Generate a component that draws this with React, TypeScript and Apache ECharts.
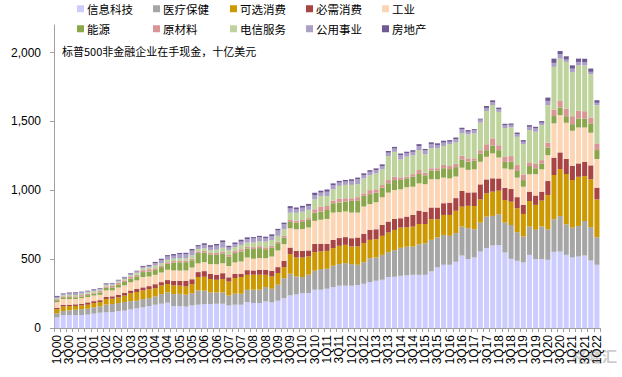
import React, { useEffect, useRef } from "react";
import * as echarts from "echarts";

const categories = [
  "1Q00","2Q00","3Q00","4Q00","1Q01","2Q01","3Q01","4Q01","1Q02","2Q02","3Q02","4Q02",
  "1Q03","2Q03","3Q03","4Q03","1Q04","2Q04","3Q04","4Q04","1Q05","2Q05","3Q05","4Q05",
  "1Q06","2Q06","3Q06","4Q06","1Q07","2Q07","3Q07","4Q07","1Q08","2Q08","3Q08","4Q08",
  "1Q09","2Q09","3Q09","4Q09","1Q10","2Q10","3Q10","4Q10","1Q11","2Q11","3Q11","4Q11",
  "1Q12","2Q12","3Q12","4Q12","1Q13","2Q13","3Q13","4Q13","1Q14","2Q14","3Q14","4Q14",
  "1Q15","2Q15","3Q15","4Q15","1Q16","2Q16","3Q16","4Q16","1Q17","2Q17","3Q17","4Q17",
  "1Q18","2Q18","3Q18","4Q18","1Q19","2Q19","3Q19","4Q19","1Q20","2Q20","3Q20","4Q20",
  "1Q21","2Q21","3Q21","4Q21","1Q22"
];

const seriesNames = ["信息科技","医疗保健","可选消费","必需消费","工业","能源","原材料","电信服务","公用事业","房地产"];
const seriesColors = ["#CCCCFF","#A6A6A6","#CC9900","#A84444","#FCD5B5","#8BA74C","#D99694","#BED49C","#ACA0C6","#705A93"];

const infoTech = [
  77,92,94,94,94,97,104,111,114,116,123,126,135,142,150,159,
  169,176,184,159,159,155,164,169,174,174,176,176,164,169,169,188,
  181,181,193,186,198,217,237,244,254,254,278,278,285,297,307,307,
  307,312,321,333,343,350,370,372,379,382,386,386,386,411,440,459,
  459,481,526,500,512,555,580,599,601,548,502,488,476,531,500,500,
  495,553,555,531,512,519,526,490,459
];
const healthCare = [
  29,31,34,39,43,43,46,46,56,58,58,63,60,56,60,58,
  60,70,75,87,89,87,89,104,97,85,82,82,72,80,80,89,
  97,97,104,99,116,145,157,130,116,133,138,150,145,155,157,164,
  157,147,157,174,169,181,181,193,203,208,205,222,229,229,217,217,
  210,208,210,225,205,210,229,215,225,217,246,208,188,205,213,237,
  222,237,258,222,217,222,251,242,200
];
const consDisc = [
  31,34,31,27,27,29,31,31,41,39,41,46,58,63,63,65,
  60,63,60,63,60,60,65,97,101,97,92,97,101,114,121,109,
  109,109,89,89,85,80,142,138,142,133,135,128,130,128,133,133,
  128,133,138,133,133,138,142,147,147,142,145,147,140,150,133,145,
  152,162,145,162,169,169,169,176,171,164,169,174,164,186,181,188,
  249,321,341,365,345,357,326,348,275
];
const consStaples = [
  10,12,10,12,12,17,14,14,14,17,19,19,19,22,22,22,
  29,24,29,34,34,41,36,36,41,36,36,43,31,31,24,34,
  31,36,36,41,43,46,48,48,48,43,60,56,51,60,56,56,
  60,65,68,72,72,80,80,80,68,77,85,97,89,85,85,85,
  89,92,114,97,99,109,101,97,89,89,92,80,65,68,68,65,
  101,126,121,109,104,97,104,101,85
];
const industrials = [
  41,41,41,39,41,39,41,39,48,43,53,56,60,63,75,70,
  68,70,75,75,75,75,85,63,65,72,77,72,82,82,89,92,
  85,85,85,104,121,121,140,157,159,167,167,174,181,198,188,186,
  186,181,198,188,196,200,210,210,210,213,205,198,200,205,205,186,
  176,157,169,164,167,164,164,181,152,140,142,142,133,126,155,162,
  188,249,270,263,254,261,249,237,208
];
const energy = [
  14,14,14,12,12,14,14,17,19,22,22,24,27,29,36,36,
  36,39,43,56,60,60,53,75,70,70,68,72,68,68,72,65,
  70,72,65,65,53,48,46,48,51,56,60,60,65,68,70,72,
  85,85,77,72,70,70,68,72,68,65,72,68,65,63,63,68,
  68,68,60,60,63,60,48,56,53,48,56,48,48,60,43,43,
  56,53,56,48,48,65,65,68,65
];
const materials = [
  7,7,7,7,10,10,7,10,10,10,12,12,12,12,14,17,
  12,12,12,12,10,12,12,12,12,12,14,14,12,14,17,12,
  14,14,14,14,12,12,14,14,14,12,24,36,29,19,29,24,
  19,27,19,29,24,19,24,24,19,12,19,29,19,17,17,24,
  22,24,27,24,17,24,43,53,36,36,41,43,41,27,31,24,
  34,48,48,56,58,56,53,43,48
];
const telecom = [
  7,7,10,10,10,10,12,10,10,10,10,10,12,14,14,14,
  19,17,17,17,19,17,24,17,19,19,24,27,36,29,31,31,
  34,34,41,41,41,48,53,58,60,60,72,77,72,82,92,97,
  97,94,109,109,116,114,174,181,130,145,138,145,133,145,145,138,
  159,155,162,174,181,200,242,242,242,210,208,205,220,234,234,254,
  273,309,307,338,321,331,333,314,278
];
const utilities = [
  10,10,10,12,10,7,7,7,7,7,7,10,10,10,10,10,
  17,22,24,22,29,29,34,19,24,24,29,39,19,22,24,24,
  29,31,24,29,39,36,31,24,29,29,31,24,31,29,24,24,
  29,36,24,24,24,24,24,24,31,24,24,29,29,29,24,24,
  17,24,29,19,24,22,22,22,19,19,19,19,17,24,24,17,
  31,29,31,17,24,24,24,17,17
];
const realEstate = [
  7,5,7,7,5,5,5,5,5,5,5,5,5,5,7,7,
  10,10,10,12,10,10,12,10,12,12,12,14,12,12,14,14,
  10,10,12,12,12,12,17,14,14,14,17,14,17,14,12,12,
  12,12,12,12,12,12,12,12,12,12,12,14,10,14,12,14,
  12,12,12,12,7,7,14,12,12,12,10,12,12,12,12,12,
  24,31,24,24,24,24,24,24,19
];

const seriesData = [infoTech, healthCare, consDisc, consStaples, industrials, energy, materials, telecom, utilities, realEstate];

const yTickValues = [0, 500, 1000, 1500, 2000];
const titleText = "标普500非金融企业在手现金，十亿美元";

const legendCols = [77, 153, 230, 306, 382];
const legendRows = [3, 23];

export default function App() {
  const ref = useRef<HTMLDivElement>(null);
  useEffect(() => {
    if (!ref.current) return;
    const chart = echarts.init(ref.current, undefined, { renderer: "svg" });
    const cjk = '"Noto Sans CJK SC", "Liberation Sans", sans-serif';
    const latin = '"Liberation Sans", Arial, sans-serif';
    const legends = seriesNames.map((name, i) => ({
      show: true,
      data: [name],
      left: legendCols[i % 5],
      top: legendRows[Math.floor(i / 5)],
      orient: "horizontal",
      itemWidth: 7,
      itemHeight: 7,
      itemGap: 0,
      padding: 0,
      icon: "rect",
      selectedMode: false,
      textStyle: { fontSize: 11.5, color: "#000", fontFamily: cjk, padding: [0, 0, 0, -2] },
    }));
    chart.setOption({
      animation: false,
      backgroundColor: "#fff",
      color: seriesColors,
      legend: legends,
      grid: { left: 54, right: 22, top: 25, bottom: 49, containLabel: false },
      graphic: [
        {
          type: "text",
          left: 62,
          top: 45,
          style: { text: titleText, fill: "#000", font: `11px ${cjk}` },
        },
        {
          type: "text",
          left: 572,
          top: 348,
          style: { text: "格隆汇", fill: "rgba(160,160,160,0.55)", font: `bold 15px ${cjk}` },
        },
      ],
      xAxis: {
        type: "category",
        data: categories,
        axisLine: { lineStyle: { color: "#A0A0A0", width: 1 } },
        axisTick: { show: true, interval: 0, length: 4, lineStyle: { color: "#A0A0A0" } },
        axisLabel: {
          interval: 1,
          rotate: 90,
          fontSize: 12,
          color: "#000",
          fontFamily: latin,
          margin: 7,
        },
        splitLine: { show: false },
      },
      yAxis: {
        type: "value",
        min: 0,
        max: 2200,
        interval: 500,
        axisLine: { show: true, lineStyle: { color: "#A0A0A0", width: 1 } },
        axisTick: { show: true, length: 4, customValues: yTickValues, lineStyle: { color: "#A0A0A0" } },
        axisLabel: {
          customValues: yTickValues,
          fontSize: 12,
          color: "#000",
          fontFamily: latin,
          margin: 13,
          formatter: (v: number) => v.toLocaleString("en-US"),
        },
        splitLine: { show: false },
      },
      series: seriesNames.map((name, i) => ({
        name,
        type: "bar",
        stack: "total",
        data: seriesData[i],
        barCategoryGap: "18%",
        itemStyle: { color: seriesColors[i] },
      })),
    });
    return () => chart.dispose();
  }, []);
  return (
    <div
      ref={ref}
      style={{ position: "fixed", left: 0, top: 0, width: 622, height: 377, background: "#fff" }}
    />
  );
}
